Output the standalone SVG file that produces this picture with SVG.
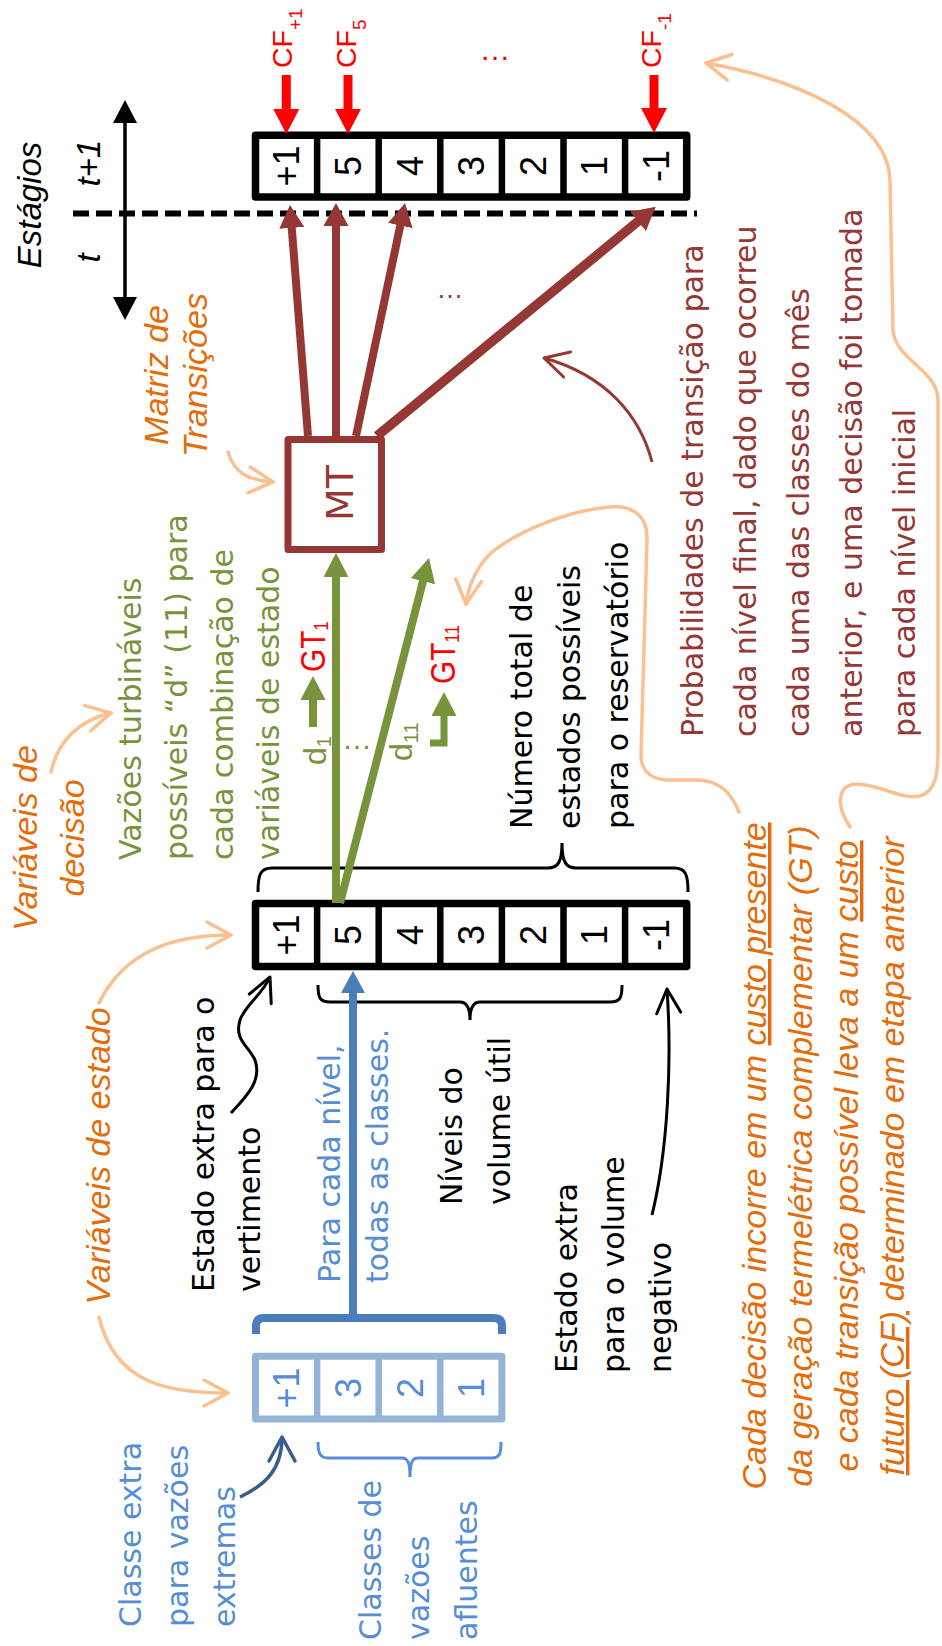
<svg xmlns="http://www.w3.org/2000/svg" width="942" height="1646" viewBox="0 0 942 1646">
  <style>
    .sans { font-family: 'DejaVu Sans', Verdana, sans-serif; font-size: 30px; }
    .lib { font-family: 'Liberation Sans', Arial, sans-serif; }
    .ital { font-family: 'Liberation Sans', Arial, sans-serif; font-style: italic; font-size: 34px; }
    .orange { fill: #E46C0A; }
    .brownT { fill: #953735; }
    .greenT { fill: #77933C; }
    .blueT { fill: #558ED5; }
    .redT { fill: #FF0000; }
    .cell { font-family: 'Liberation Sans', Arial, sans-serif; font-size: 36px; text-anchor: middle; }
    .box { fill: #FFFFFF; stroke: #000000; stroke-width: 7.5; stroke-linejoin: round; }
    .div { stroke: #000000; stroke-width: 6.5; }
    .lbox { fill: #FFFFFF; stroke: #95B3D7; stroke-width: 7; stroke-linejoin: round; }
    .ldiv { stroke: #95B3D7; stroke-width: 6.5; }
    .peach { fill: none; stroke: #FAC090; stroke-width: 3.5; stroke-linecap: round; marker-end: url(#openPeach); }
    .brace { fill: none; stroke: #000000; stroke-width: 3; }
    .u { text-decoration: underline; }
  </style>
  <defs>
    <marker id="hBrown" viewBox="0 0 23 25" refX="2" refY="12.5" markerWidth="23" markerHeight="25" orient="auto" markerUnits="userSpaceOnUse">
      <path d="M0,0 L23,12.5 L0,25 z" fill="#953735"/>
    </marker>
    <marker id="hGreen" viewBox="0 0 24 25" refX="2" refY="12.5" markerWidth="24" markerHeight="25" orient="auto" markerUnits="userSpaceOnUse">
      <path d="M0,0 L24,12.5 L0,25 z" fill="#77933C"/>
    </marker>
    <marker id="hRed" viewBox="0 0 25 26" refX="2" refY="13" markerWidth="25" markerHeight="26" orient="auto" markerUnits="userSpaceOnUse">
      <path d="M0,0 L25,13 L0,26 z" fill="#FF0000"/>
    </marker>
    <marker id="hBlue" viewBox="0 0 22 24" refX="2" refY="12" markerWidth="22" markerHeight="24" orient="auto" markerUnits="userSpaceOnUse">
      <path d="M0,0 L22,12 L0,24 z" fill="#4A7EBB"/>
    </marker>
    <marker id="hBlack" viewBox="0 0 23 24" refX="2" refY="12" markerWidth="23" markerHeight="24" orient="auto-start-reverse" markerUnits="userSpaceOnUse">
      <path d="M0,0 L23,12 L0,24 z" fill="#000000"/>
    </marker>
    <marker id="openPeach" viewBox="-30 -20 40 40" refX="0" refY="0" markerWidth="40" markerHeight="40" orient="auto" markerUnits="userSpaceOnUse" overflow="visible">
      <path d="M-24,-13 L0,0 L-24,13" fill="none" stroke="#FAC090" stroke-width="3.5" stroke-linecap="round" stroke-linejoin="round"/>
    </marker>
    <marker id="openBlack" viewBox="-30 -20 40 40" refX="0" refY="0" markerWidth="40" markerHeight="40" orient="auto" markerUnits="userSpaceOnUse" overflow="visible">
      <path d="M-24,-12 L0,0 L-24,12" fill="none" stroke="#000000" stroke-width="3" stroke-linecap="round" stroke-linejoin="round"/>
    </marker>
    <marker id="openNavy" viewBox="-30 -20 40 40" refX="0" refY="0" markerWidth="40" markerHeight="40" orient="auto" markerUnits="userSpaceOnUse" overflow="visible">
      <path d="M-24,-13 L0,0 L-24,13" fill="none" stroke="#385D8A" stroke-width="3.5" stroke-linecap="round" stroke-linejoin="round"/>
    </marker>
    <marker id="openBrown" viewBox="-30 -20 40 40" refX="0" refY="0" markerWidth="40" markerHeight="40" orient="auto" markerUnits="userSpaceOnUse" overflow="visible">
      <path d="M-24,-13 L0,0 L-24,13" fill="none" stroke="#953735" stroke-width="3" stroke-linecap="round" stroke-linejoin="round"/>
    </marker>
  </defs>

  <rect width="942" height="1646" fill="#FFFFFF"/>

  <!-- time axis: stages t and t+1 -->
  <g id="stage-axis">
    <line x1="125" y1="121" x2="125" y2="299" stroke="#000000" stroke-width="3.5" marker-start="url(#hBlack)" marker-end="url(#hBlack)"/>
    <line x1="73" y1="213.5" x2="697" y2="213.5" stroke="#000000" stroke-width="6" stroke-dasharray="16 7"/>
    <text class="lib" font-style="italic" font-size="33" text-anchor="middle" transform="translate(41,205) rotate(-90)">Estágios</text>
    <text class="lib" font-style="italic" font-size="33" text-anchor="middle" transform="translate(100,163) rotate(-90)">t+1</text>
    <text class="lib" font-style="italic" font-size="33" text-anchor="middle" transform="translate(100,258) rotate(-90)">t</text>
  </g>

  <!-- future cost labels -->
  <g id="future-costs">
    <text class="lib redT" font-size="28.5" transform="translate(292,68) rotate(-90)">CF<tspan font-size="19" dy="10">+1</tspan></text>
    <text class="lib redT" font-size="28.5" transform="translate(356,68) rotate(-90)">CF<tspan font-size="19" dy="10">5</tspan></text>
    <text class="lib redT" font-size="28.5" transform="translate(661,68) rotate(-90)">CF<tspan font-size="19" dy="10">-1</tspan></text>
    <text class="lib redT" font-size="31" text-anchor="middle" x="495" y="60">…</text>
  </g>

  <!-- storage levels at stage t+1 -->
  <g id="levels-t1">
    <rect class="box" x="255.5" y="135.3" width="431.2" height="61.7"/>
    <line class="div" x1="317.1" y1="135.3" x2="317.1" y2="197"/>
    <line class="div" x1="378.7" y1="135.3" x2="378.7" y2="197"/>
    <line class="div" x1="440.3" y1="135.3" x2="440.3" y2="197"/>
    <line class="div" x1="501.9" y1="135.3" x2="501.9" y2="197"/>
    <line class="div" x1="563.5" y1="135.3" x2="563.5" y2="197"/>
    <line class="div" x1="625.1" y1="135.3" x2="625.1" y2="197"/>
    <text class="cell" transform="translate(299.3,166) rotate(-90)">+1</text>
    <text class="cell" transform="translate(360.9,166) rotate(-90)">5</text>
    <text class="cell" transform="translate(422.5,166) rotate(-90)">4</text>
    <text class="cell" transform="translate(484.1,166) rotate(-90)">3</text>
    <text class="cell" transform="translate(545.7,166) rotate(-90)">2</text>
    <text class="cell" transform="translate(607.3,166) rotate(-90)">1</text>
    <text class="cell" transform="translate(668.9,166) rotate(-90)">-1</text>
  </g>

  <!-- transition matrix -->
  <g id="transition-matrix">
    <rect x="288" y="439.5" width="93.5" height="110" fill="#FFFFFF" stroke="#953735" stroke-width="7" stroke-linejoin="round"/>
    <text class="brownT" font-family="'DejaVu Sans', Verdana, sans-serif" font-size="38" text-anchor="middle" transform="translate(353,493) rotate(-90)">MT</text>
    <text class="ital orange" text-anchor="middle" transform="translate(168,375) rotate(-90)"><tspan x="0">Matriz de</tspan><tspan x="0" dy="39">Transições</tspan></text>
  </g>

  <!-- storage levels at stage t -->
  <g id="levels-t">
    <rect class="box" x="255.5" y="903.5" width="431.2" height="63"/>
    <line class="div" x1="317.1" y1="903.5" x2="317.1" y2="966.5"/>
    <line class="div" x1="378.7" y1="903.5" x2="378.7" y2="966.5"/>
    <line class="div" x1="440.3" y1="903.5" x2="440.3" y2="966.5"/>
    <line class="div" x1="501.9" y1="903.5" x2="501.9" y2="966.5"/>
    <line class="div" x1="563.5" y1="903.5" x2="563.5" y2="966.5"/>
    <line class="div" x1="625.1" y1="903.5" x2="625.1" y2="966.5"/>
    <text class="cell" transform="translate(299.3,935) rotate(-90)">+1</text>
    <text class="cell" transform="translate(360.9,935) rotate(-90)">5</text>
    <text class="cell" transform="translate(422.5,935) rotate(-90)">4</text>
    <text class="cell" transform="translate(484.1,935) rotate(-90)">3</text>
    <text class="cell" transform="translate(545.7,935) rotate(-90)">2</text>
    <text class="cell" transform="translate(607.3,935) rotate(-90)">1</text>
    <text class="cell" transform="translate(668.9,935) rotate(-90)">-1</text>
  </g>

  <!-- inflow classes -->
  <g id="inflow-classes">
    <rect class="lbox" x="255.5" y="1356.3" width="246.4" height="62.7"/>
    <line class="ldiv" x1="317.1" y1="1356.3" x2="317.1" y2="1419"/>
    <line class="ldiv" x1="378.7" y1="1356.3" x2="378.7" y2="1419"/>
    <line class="ldiv" x1="440.3" y1="1356.3" x2="440.3" y2="1419"/>
    <text class="cell blueT" transform="translate(299.3,1388) rotate(-90)">+1</text>
    <text class="cell blueT" transform="translate(360.9,1388) rotate(-90)">3</text>
    <text class="cell blueT" transform="translate(422.5,1388) rotate(-90)">2</text>
    <text class="cell blueT" transform="translate(484.1,1388) rotate(-90)">1</text>
  </g>

  <!-- decision variables and thermal generation -->
  <g id="decisions">
    <text class="lib redT" font-size="35" transform="translate(325,672) rotate(-90) scale(0.85,1)">GT<tspan font-size="20" dy="3">1</tspan></text>
    <text class="lib redT" font-size="35" transform="translate(455,684) rotate(-90) scale(0.85,1)">GT<tspan font-size="20" dy="4">11</tspan></text>
    <text class="lib greenT" font-size="32" transform="translate(326,765) rotate(-90)">d<tspan font-size="20" dy="5">1</tspan></text>
    <text class="lib greenT" font-size="32" transform="translate(412,761) rotate(-90)">d<tspan font-size="20" dy="6">11</tspan></text>
    <text class="lib greenT" font-size="30" text-anchor="middle" x="357" y="749">…</text>
  </g>

  <!-- annotations -->
  <g id="labels">
    <text class="ital orange" text-anchor="middle" transform="translate(37,838) rotate(-90)"><tspan x="0">Variáveis de</tspan><tspan x="0" dy="47">decisão</tspan></text>
    <text class="ital orange" text-anchor="middle" transform="translate(110,1156) rotate(-90)">Variáveis de estado</text>
    <text class="sans greenT" transform="translate(141,860) rotate(-90)"><tspan x="0">Vazões turbináveis</tspan><tspan x="0" dy="46">possíveis “d” (11) para</tspan><tspan x="0" dy="46">cada combinação de</tspan><tspan x="0" dy="46">variáveis de estado</tspan></text>
    <text class="sans" transform="translate(532,829) rotate(-90)"><tspan x="0">Número total de</tspan><tspan x="0" dy="48">estados possíveis</tspan><tspan x="0" dy="48">para o reservatório</tspan></text>
    <text class="sans brownT" transform="translate(703,737) rotate(-90)"><tspan x="0">Probabilidades de transição para</tspan><tspan x="0" dy="53">cada nível final, dado que ocorreu</tspan><tspan x="0" dy="53">cada uma das classes do mês</tspan><tspan x="0" dy="53">anterior, e uma decisão foi tomada</tspan><tspan x="0" dy="53">para cada nível inicial</tspan></text>
    <text class="sans" transform="translate(214,1292) rotate(-90)"><tspan x="0">Estado extra para o</tspan><tspan x="0" dy="46">vertimento</tspan></text>
    <text class="sans blueT" transform="translate(340,1283) rotate(-90)"><tspan x="0">Para cada nível,</tspan><tspan x="0" dy="48">todas as classes.</tspan></text>
    <text class="sans" transform="translate(462,1205) rotate(-90)"><tspan x="0">Níveis do</tspan><tspan x="0" dy="48">volume útil</tspan></text>
    <text class="sans" transform="translate(577,1373) rotate(-90)"><tspan x="0">Estado extra</tspan><tspan x="0" dy="47">para o volume</tspan><tspan x="0" dy="47">negativo</tspan></text>
    <text class="sans blueT" transform="translate(141,1627) rotate(-90)"><tspan x="0">Classe extra</tspan><tspan x="0" dy="47">para vazões</tspan><tspan x="0" dy="47">extremas</tspan></text>
    <text class="sans blueT" transform="translate(381,1640) rotate(-90)"><tspan x="0">Classes de</tspan><tspan x="0" dy="48">vazões</tspan><tspan x="0" dy="48">afluentes</tspan></text>
    <text class="ital orange" text-anchor="middle" transform="translate(766,1156) rotate(-90)"><tspan x="0">Cada decisão incorre em um <tspan class="u">custo presente</tspan></tspan><tspan x="0" dy="46">da geração termelétrica complementar (GT)</tspan><tspan x="0" dy="46">e cada transição possível leva a um <tspan class="u">custo</tspan></tspan><tspan x="0" dy="46"><tspan class="u">futuro (CF)</tspan> determinado em etapa anterior</tspan></text>
    <text class="lib brownT" font-size="27" text-anchor="middle" x="450" y="298">…</text>
  </g>

  <!-- braces and brackets -->
  <g id="braces">
    <path class="brace" d="M258 892 C258 875 260 868 272 868 L548 868 C558 868 562 862 562 843 C562 862 566 868 576 868 L674 868 C686 868 688 875 688 892"/>
    <path class="brace" d="M318 985 C318 998 320 1002 330 1002 L460 1002 C467 1002 470 1008 470 1020 C470 1008 473 1002 480 1002 L610 1002 C620 1002 622 998 622 985"/>
    <path fill="none" stroke="#558ED5" stroke-width="3" d="M318 1442 C318 1453 320 1458 328 1458 L402 1458 C408 1458 410 1463 410 1477 C410 1463 412 1458 418 1458 L492 1458 C500 1458 501 1453 501 1442"/>
    <path fill="none" stroke="#4A7EBB" stroke-width="8" d="M256 1334 L256 1326 Q256 1318 264 1318 L494 1318 Q502 1318 502 1326 L502 1334"/>
  </g>

  <!-- connectors -->
  <g id="connectors">
    <!-- transitions from the matrix to each final level -->
    <line x1="308" y1="436" x2="291.6" y2="225.9" stroke="#953735" stroke-width="8" marker-end="url(#hBrown)"/>
    <line x1="336" y1="436" x2="336" y2="224" stroke="#953735" stroke-width="8" marker-end="url(#hBrown)"/>
    <line x1="356" y1="436" x2="400.7" y2="223.6" stroke="#953735" stroke-width="8" marker-end="url(#hBrown)"/>
    <line x1="377" y1="436" x2="639.5" y2="220.2" stroke="#953735" stroke-width="9.5" marker-end="url(#hBrown)"/>
    <!-- decisions from level 5 to the matrix -->
    <line x1="336" y1="903" x2="336" y2="575" stroke="#77933C" stroke-width="8" marker-end="url(#hGreen)"/>
    <line x1="340" y1="903" x2="423.5" y2="579.3" stroke="#77933C" stroke-width="8" marker-end="url(#hGreen)"/>
    <line x1="313" y1="727" x2="313" y2="698" stroke="#77933C" stroke-width="8" marker-end="url(#hGreen)"/>
    <path d="M430 743 H444 V714" fill="none" stroke="#77933C" stroke-width="7" marker-end="url(#hGreen)"/>
    <!-- future costs -->
    <line x1="286.3" y1="75" x2="286.3" y2="111" stroke="#FF0000" stroke-width="9" marker-end="url(#hRed)"/>
    <line x1="348" y1="75" x2="348" y2="111" stroke="#FF0000" stroke-width="9" marker-end="url(#hRed)"/>
    <line x1="654" y1="75" x2="654" y2="110" stroke="#FF0000" stroke-width="9" marker-end="url(#hRed)"/>
    <!-- inflow classes feed every level -->
    <line x1="353" y1="1318" x2="353" y2="991" stroke="#4A7EBB" stroke-width="8" marker-end="url(#hBlue)"/>
    <!-- callouts -->
    <path class="peach" d="M51 772 C58 740 80 720 111 713"/>
    <path class="peach" d="M99 1003 C125 950 175 935 231 935"/>
    <path class="peach" d="M99 1317 C115 1385 170 1393 228 1393"/>
    <path class="peach" d="M228 452 C235 475 250 480 273 482"/>
    <path class="peach" d="M739 812 C730 790 718 781 697 780 L667 780 C650 779 641 770 641 755 L647 540 C648 518 635 505 610 507 C570 510 520 530 492 552 C478 565 468 585 466 604"/>
    <path class="peach" d="M850 827 C835 805 838 785 856 784 C880 784 900 800 920 796 C935 792 938 775 938 750 L938 400 C938 370 895 360 893 330 L890 180 C888 120 800 80 706 63"/>
    <path fill="none" stroke="#000000" stroke-width="3" marker-end="url(#openBlack)" d="M231 1113 C248 1095 262 1080 255 1060 C248 1045 234 1040 240 1020 C245 1005 262 995 270 977"/>
    <path fill="none" stroke="#000000" stroke-width="3" marker-end="url(#openBlack)" d="M652 1215 C668 1150 672 1060 667 989"/>
    <path fill="none" stroke="#385D8A" stroke-width="3.5" marker-end="url(#openNavy)" d="M240 1497 C265 1485 282 1470 282 1437"/>
    <path fill="none" stroke="#953735" stroke-width="3" marker-end="url(#openBrown)" d="M652 462 C640 415 605 375 544 358"/>
  </g>
</svg>
